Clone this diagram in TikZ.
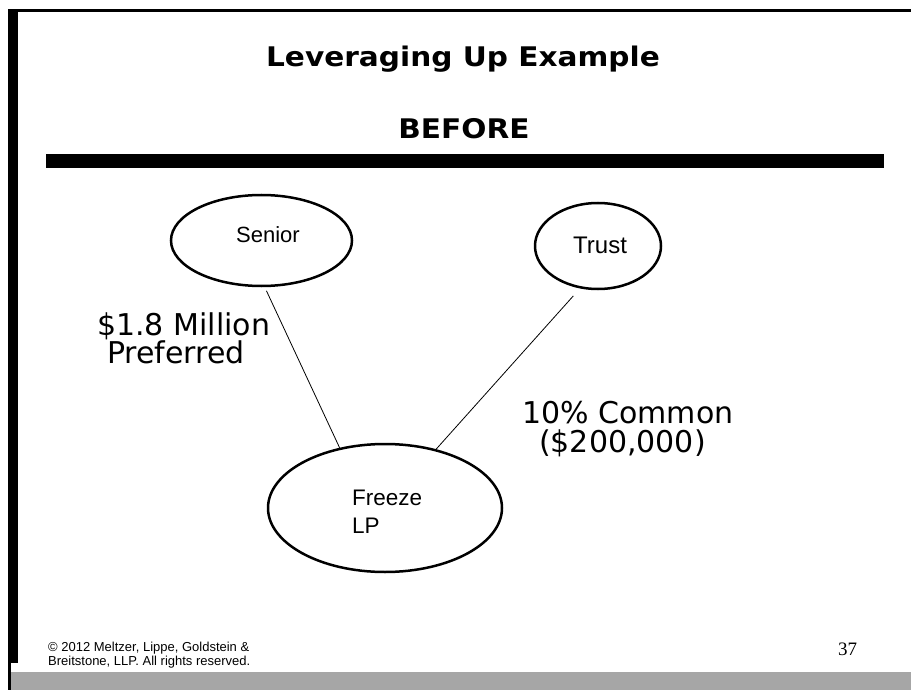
\documentclass[tikz,border=0pt]{standalone}
\usepackage{fontspec}
\setmainfont{Liberation Sans}
\newfontfamily\dejavu{DejaVu Sans}
\newfontfamily\timesf{Liberation Serif}
\usetikzlibrary{shapes.geometric}
\definecolor{bandgrey}{HTML}{A6A6A6}
\tikzset{
  oval/.style={draw=black, line width=2.5pt, ellipse, inner sep=0pt, fill=white},
  ovaltext/.style={font=\fontsize{22}{28}\selectfont, anchor=base west, inner sep=0pt},
  link/.style={draw=black, line width=0.8pt},
  biglabel/.style={font=\dejavu\fontsize{30}{30}\selectfont, anchor=base west, inner sep=0pt},
  titletext/.style={font=\dejavu\bfseries\fontsize{27}{27}\selectfont, anchor=base, inner sep=0pt, xscale=1.096, transform shape},
  foot/.style={font=\fontsize{13}{14}\selectfont, anchor=base west, inner sep=0pt}
}
\begin{document}
\begin{tikzpicture}[x=1pt,y=-1pt]
\useasboundingbox (0,0) rectangle (911,690);
\fill[white] (0,0) rectangle (911,690);
% frame
\fill[black] (8,9) rectangle (18,663);
\fill[black] (8,663) rectangle (11,690);
\fill[black] (18,9.5) rectangle (911,12);
\fill[bandgrey] (11,672) rectangle (911,690);
\fill[black] (46,154) rectangle (884,168);
% titles
\node[titletext] (title) at (463,67) {Leveraging Up Example};
\node[titletext] (before) at (464,139) {BEFORE};
% ovals
\node[oval, minimum width=181pt, minimum height=91pt] (sen) at (261.5,240.5) {};
\node[oval, minimum width=126pt, minimum height=86pt] (tr) at (598,246) {};
\node[oval, minimum width=234pt, minimum height=128pt] (fz) at (385,508) {};
% oval texts
\node[ovaltext] (sent) at (236,242) {Senior};
\node[ovaltext, font=\fontsize{24}{28}\selectfont] (trt) at (573,254) {Trust};
\node[ovaltext, font=\fontsize{22.5}{28}\selectfont] (fzt1) at (352,505) {Freeze};
\node[ovaltext, font=\fontsize{22.5}{28}\selectfont] (fzt2) at (352,533) {LP};
% links
\draw[link, shorten <=4pt] (sen.-86) -- (fz.127);
\draw[link, shorten <=10pt] (tr.-113) -- (fz.49);
% labels
\node[biglabel] (l1) at (97,335) {\$1.8 Million};
\node[biglabel] (l2) at (107,363) {Preferred};
\node[biglabel] (l3) at (522,423) {10\% Common};
\node[biglabel] (l4) at (539,452) {(\$200,000)};
% footer
\node[foot] (f1) at (48,651) {© 2012 Meltzer, Lippe, Goldstein \&};
\node[foot] (f2) at (48,665) {Breitstone, LLP. All rights reserved.};
\node[font=\timesf\fontsize{19}{19}\selectfont, anchor=base west, inner sep=0pt] (pg) at (838,655) {37};
\end{tikzpicture}
\end{document}
